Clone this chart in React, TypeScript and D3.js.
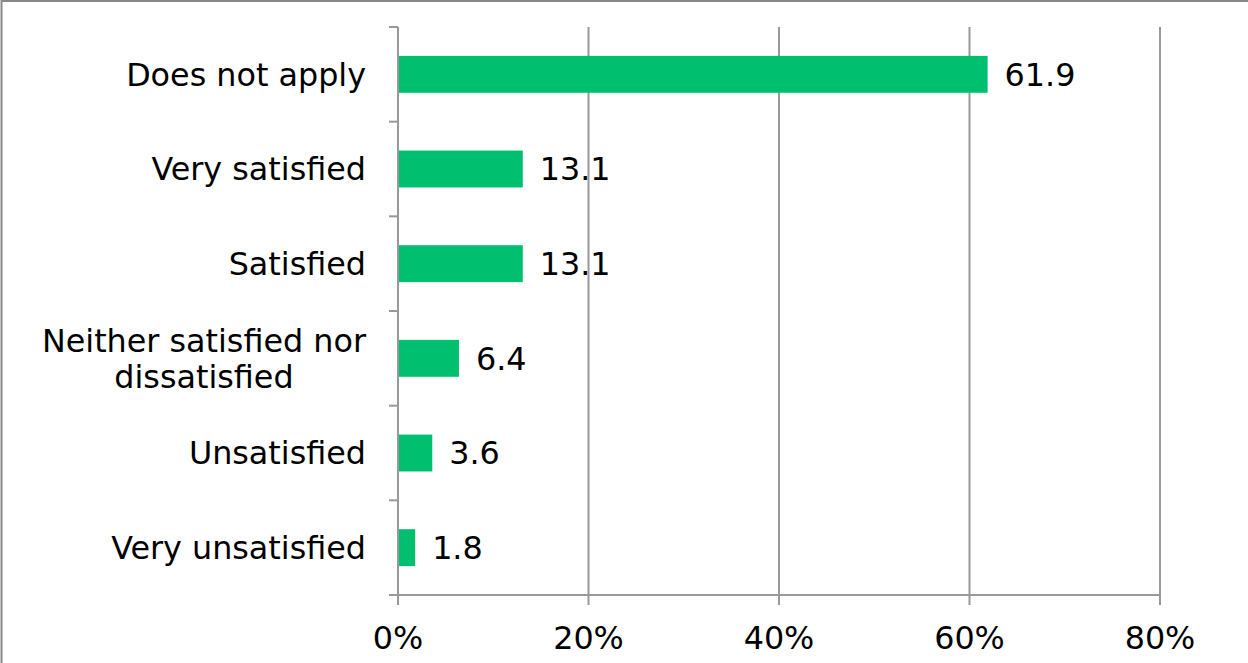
import React, { useEffect, useRef } from "react";
import * as d3 from "d3";

const categories: string[][] = [
  ["Does not apply"],
  ["Very satisfied"],
  ["Satisfied"],
  ["Neither satisfied nor", "dissatisfied"],
  ["Unsatisfied"],
  ["Very unsatisfied"],
];
const values: number[] = [61.9, 13.1, 13.1, 6.4, 3.6, 1.8];
const xTicks: number[] = [0, 20, 40, 60, 80];

const W = 1248;
const H = 663;
const FONT = "'DejaVu Sans', Verdana, sans-serif";
const FS = 31.8;
const GREEN = "#00C06F";
const GRID = "#999999";

export default function App() {
  const ref = useRef<SVGSVGElement | null>(null);

  useEffect(() => {
    const svg = d3.select(ref.current);
    svg.selectAll("*").remove();

    const left = 398, right = 1160, top = 27, bottom = 595;
    const x = d3.scaleLinear().domain([0, 80]).range([left, right]);
    const keys = categories.map((_, i) => String(i));
    const y = d3.scaleBand<string>().domain(keys).range([top, bottom]).paddingInner(0.61).paddingOuter(0.305);
    const step = y.step();

    // frame
    svg.append("rect").attr("x", 1.5).attr("y", 1).attr("width", W + 10).attr("height", H + 10)
      .attr("fill", "white").attr("stroke", "#888").attr("stroke-width", 2);

    // gridlines
    svg.append("g").selectAll("line").data(xTicks.filter(t => t > 0)).join("line")
      .attr("x1", d => x(d)).attr("x2", d => x(d)).attr("y1", top).attr("y2", bottom + 10)
      .attr("stroke", GRID).attr("stroke-width", 2);

    // bars
    svg.append("g").selectAll("rect").data(values).join("rect")
      .attr("x", x(0)).attr("y", (_, i) => y(String(i))!)
      .attr("width", d => x(d) - x(0)).attr("height", y.bandwidth())
      .attr("fill", GREEN);

    // y axis
    svg.append("line").attr("x1", left).attr("x2", left).attr("y1", top).attr("y2", bottom + 10)
      .attr("stroke", GRID).attr("stroke-width", 2);
    const boundaries = d3.range(categories.length + 1).map(i => top + i * step);
    svg.append("g").selectAll("line").data(boundaries).join("line")
      .attr("x1", left - 9).attr("x2", left).attr("y1", d => d).attr("y2", d => d)
      .attr("stroke", GRID).attr("stroke-width", 2);

    // x axis
    svg.append("line").attr("x1", left - 9).attr("x2", right).attr("y1", bottom).attr("y2", bottom)
      .attr("stroke", GRID).attr("stroke-width", 2);

    // x tick labels
    svg.append("g").selectAll("text").data(xTicks).join("text")
      .attr("x", d => x(d)).attr("y", 649).attr("text-anchor", "middle")
      .attr("font-family", FONT).attr("font-size", FS).attr("fill", "#000")
      .text(d => `${d}%`);

    // category labels
    const labelRight = 366;
    const lh = 36;
    categories.forEach((lines, i) => {
      const cy = y(String(i))! + y.bandwidth() / 2;
      const n = lines.length;
      const g = svg.append("g");
      const texts = lines.map((line, j) =>
        g.append("text")
          .attr("y", cy + (j - (n - 1) / 2) * lh)
          .attr("dy", "0.36em")
          .attr("font-family", FONT).attr("font-size", FS).attr("fill", "#000")
          .text(line)
      );
      const widths = texts.map(t => (t.node() as SVGTextElement).getComputedTextLength());
      const maxW = Math.max(...widths);
      const cx = labelRight - maxW / 2;
      texts.forEach(t => t.attr("x", cx).attr("text-anchor", "middle"));
    });

    // value labels
    svg.append("g").selectAll("text").data(values).join("text")
      .attr("x", d => x(d) + 17)
      .attr("y", (_, i) => y(String(i))! + y.bandwidth() / 2)
      .attr("dy", "0.36em")
      .attr("font-family", FONT).attr("font-size", FS).attr("fill", "#000")
      .text(d => d.toFixed(1));
  }, []);

  return (
    <svg ref={ref} width={W} height={H}
      style={{ position: "absolute", left: 0, top: 0, display: "block" }} />
  );
}
